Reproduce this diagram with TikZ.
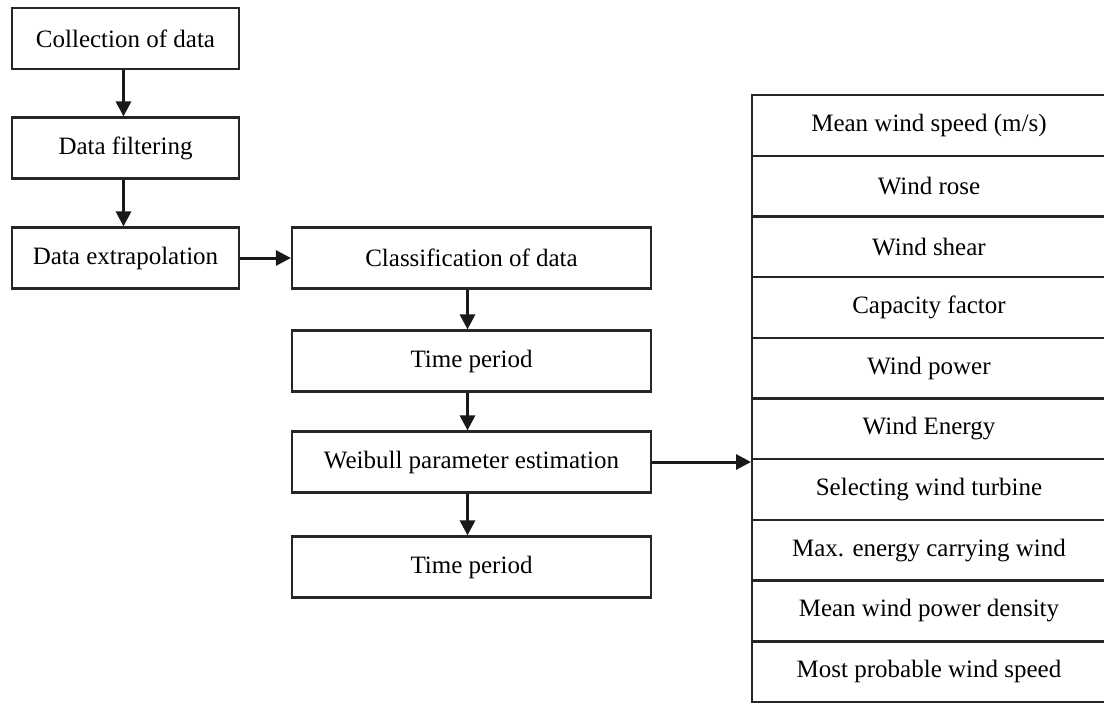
\documentclass[tikz,border=0pt]{standalone}
\usepackage{fontspec}
\setmainfont{Liberation Serif}
\usetikzlibrary{arrows.meta}
\begin{document}
\begin{tikzpicture}[x=1pt,y=-1pt,
  font=\fontsize{25}{30}\selectfont,
  box/.style={draw=black!85, line width=2.2pt, rectangle, inner sep=0pt, minimum height=61pt},
  lbox/.style={box, minimum width=227pt},
  rbox/.style={box, minimum width=359pt},
  row/.style={draw=black!85, line width=2.4pt, rectangle, inner sep=0pt, outer sep=0pt, minimum height=60.7pt, minimum width=354pt},
  arr/.style={line width=3pt, draw=black!90, -{Triangle[length=15pt,width=15pt]}}]
\useasboundingbox[fill=white] (0,0) rectangle (1104,704);

% left column
\node[lbox] (c1) at (125.5,38.5) {Collection of data};
\node[lbox] (c2) at (125.5,148) {Data filtering};
\node[lbox] (c3) at (125.5,258) {Data extrapolation};

% middle column
\node[rbox] (m1) at (471.5,258) {Classification of data};
\node[rbox] (m2) at (471.5,361) {Time period};
\node[rbox] (m3) at (471.5,462) {Weibull parameter estimation};
\node[rbox] (m4) at (471.5,567) {Time period};

% right table
\node[row, anchor=north west] (r1) at (752,95) {Mean wind speed (m/s)};
\node[row, anchor=north west] (r2) at (r1.south west) {Wind rose};
\node[row, anchor=north west] (r3) at (r2.south west) {Wind shear};
\node[row, anchor=north west] (r4) at (r3.south west) {Capacity factor};
\node[row, anchor=north west] (r5) at (r4.south west) {Wind power};
\node[row, anchor=north west] (r6) at (r5.south west) {Wind Energy};
\node[row, anchor=north west] (r7) at (r6.south west) {Selecting wind turbine};
\node[row, anchor=north west] (r8) at (r7.south west) {Max. energy carrying wind};
\node[row, anchor=north west] (r9) at (r8.south west) {Mean wind power density};
\node[row, anchor=north west] (r10) at (r9.south west) {Most probable wind speed};

% connectors
\draw[arr] ([xshift=-2pt]c1.south) -- ([xshift=-2pt]c2.north);
\draw[arr] ([xshift=-2pt]c2.south) -- ([xshift=-2pt]c3.north);
\draw[arr] (c3.east) -- (m1.west);
\draw[arr] ([xshift=-4pt]m1.south) -- ([xshift=-4pt]m2.north);
\draw[arr] ([xshift=-4pt]m2.south) -- ([xshift=-4pt]m3.north);
\draw[arr] ([xshift=-4pt]m3.south) -- ([xshift=-4pt]m4.north);
\draw[arr] (m3.east) -- ([xshift=-1pt]m3.east -| r7.west);
\end{tikzpicture}
\end{document}
